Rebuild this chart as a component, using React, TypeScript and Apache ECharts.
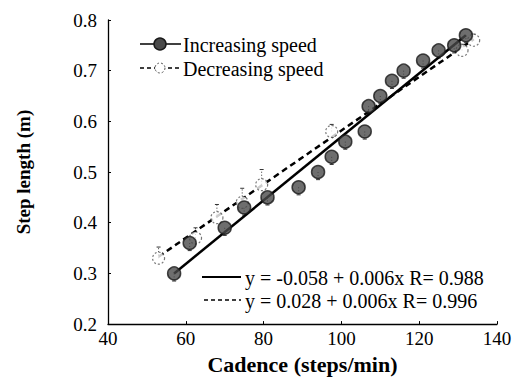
import React, { useEffect, useRef } from "react";
import * as echarts from "echarts";

const cadenceInc = [57, 61, 70, 75, 81, 89, 94, 97.5, 101, 106, 107, 110, 113, 116, 121, 125, 129, 132];
const stepInc = [0.30, 0.36, 0.39, 0.43, 0.45, 0.47, 0.50, 0.53, 0.56, 0.58, 0.63, 0.65, 0.68, 0.70, 0.72, 0.74, 0.75, 0.77];
const errInc = [0.015, 0.015, 0.015, 0.015, 0.015, 0.015, 0.015, 0.015, 0.015, 0.015, 0.015, 0.015, 0.015, 0.015, 0.015, 0.015, 0.015, 0.015];

const cadenceDec = [53, 62.5, 68, 74.5, 79.5, 97.5, 131, 134];
const stepDec = [0.33, 0.37, 0.41, 0.44, 0.475, 0.58, 0.74, 0.76];
const errDec = [0.022, 0.02, 0.026, 0.028, 0.03, 0.014, 0.012, 0.012];

const fitIncX = [57, 132];
const fitIncY = [0.30, 0.77];
const fitDecX = [53, 134];
const fitDecY = [0.333, 0.762];

const xTicks = [40, 60, 80, 100, 120, 140];
const yTicks = [0.2, 0.3, 0.4, 0.5, 0.6, 0.7, 0.8];

const seriesNames = ["Increasing speed", "Decreasing speed"];
const eqTexts = ["y = -0.058 + 0.006x R= 0.988", "y = 0.028 + 0.006x R= 0.996"];

const FONT = "'Liberation Serif', 'DejaVu Serif', serif";

export default function App() {
  const ref = useRef<HTMLDivElement>(null);
  useEffect(() => {
    if (!ref.current) return;
    const chart = echarts.init(ref.current, null, { renderer: "svg" });
    const inc = cadenceInc.map((x, i) => [x, stepInc[i], errInc[i]]);
    const dec = cadenceDec.map((x, i) => [x, stepDec[i], errDec[i]]);
    const errRender = (dir: number) => (params: any, api: any) => {
      const x = api.value(0);
      const y = api.value(1);
      const e = api.value(2);
      const p0 = api.coord([x, y]);
      const p1 = api.coord([x, y + dir * e]);
      return {
        type: "group",
        children: [
          { type: "line", shape: { x1: p0[0], y1: p0[1], x2: p1[0], y2: p1[1] }, style: { stroke: "#333", lineWidth: 1, lineDash: [1, 2] } },
          { type: "line", shape: { x1: p1[0] - 2, y1: p1[1], x2: p1[0] + 2, y2: p1[1] }, style: { stroke: "#333", lineWidth: 1 } },
        ],
      };
    };
    chart.setOption({
      animation: false,
      backgroundColor: "#fff",
      grid: { left: 108, right: 22, top: 20, bottom: 54 },
      xAxis: {
        type: "value",
        min: xTicks[0],
        max: xTicks[xTicks.length - 1],
        interval: 20,
        name: "Cadence (steps/min)",
        nameLocation: "middle",
        nameGap: 25,
        nameTextStyle: { fontFamily: FONT, fontWeight: "bold", fontSize: 22, color: "#000" },
        axisLine: { lineStyle: { color: "#000", width: 1.3 } },
        axisTick: { inside: true, length: 3, lineStyle: { color: "#000" } },
        axisLabel: { fontFamily: FONT, fontSize: 19, color: "#000", margin: 5 },
        splitLine: { show: false },
      },
      yAxis: {
        type: "value",
        min: yTicks[0],
        max: yTicks[yTicks.length - 1],
        interval: 0.1,
        name: "Step length (m)",
        nameLocation: "middle",
        nameGap: 75,
        nameTextStyle: { fontFamily: FONT, fontWeight: "bold", fontSize: 19, color: "#000" },
        axisLine: { show: true, lineStyle: { color: "#000", width: 1.3 } },
        axisTick: { show: true, inside: true, length: 3, lineStyle: { color: "#000" } },
        axisLabel: { fontFamily: FONT, fontSize: 19, color: "#000", margin: 11, formatter: (v: number) => v.toFixed(1) },
        splitLine: { show: false },
      },
      series: [
        {
          type: "line",
          name: "fitDec",
          data: fitDecX.map((x, i) => [x, fitDecY[i]]),
          symbol: "none",
          lineStyle: { color: "#000", width: 2.5, type: [6, 4] },
          z: 2,
        },
        {
          type: "line",
          name: "fitInc",
          data: fitIncX.map((x, i) => [x, fitIncY[i]]),
          symbol: "none",
          lineStyle: { color: "#000", width: 2.5 },
          z: 3,
        },
        {
          type: "custom",
          name: "errDec",
          data: dec,
          renderItem: errRender(1),
          z: 1,
        },
        {
          type: "custom",
          name: "errInc",
          data: inc,
          renderItem: errRender(-1),
          z: 1,
        },
        {
          type: "scatter",
          name: seriesNames[1],
          data: dec,
          symbol: "circle",
          symbolSize: 12,
          itemStyle: { color: "#fff", borderColor: "#555", borderWidth: 1.2, borderType: [2, 2] },
          z: 4,
        },
        {
          type: "scatter",
          name: seriesNames[0],
          data: inc,
          symbol: "circle",
          symbolSize: 13,
          itemStyle: { color: "#4a4a4a", borderColor: "#1a1a1a", borderWidth: 1.5 },
          z: 5,
        },
      ],
      graphic: [
        { type: "line", shape: { x1: 140, y1: 44, x2: 181, y2: 44 }, style: { stroke: "#000", lineWidth: 1.5 } },
        { type: "circle", shape: { cx: 160, cy: 44, r: 6 }, style: { fill: "#4a4a4a", stroke: "#1a1a1a", lineWidth: 1.5 } },
        { type: "text", x: 183, y: 45, style: { text: seriesNames[0], fontFamily: FONT, fontSize: 20, fill: "#000", verticalAlign: "middle" } },
        { type: "line", shape: { x1: 140, y1: 68, x2: 181, y2: 68 }, style: { stroke: "#000", lineWidth: 1.5, lineDash: [4, 3] } },
        { type: "circle", shape: { cx: 160, cy: 68, r: 5 }, style: { fill: "#fff", stroke: "#555", lineWidth: 1, lineDash: [2, 2] } },
        { type: "text", x: 183, y: 69, style: { text: seriesNames[1], fontFamily: FONT, fontSize: 20, fill: "#000", verticalAlign: "middle" } },
        { type: "line", shape: { x1: 202, y1: 277, x2: 241, y2: 277 }, style: { stroke: "#000", lineWidth: 2 } },
        { type: "text", x: 245, y: 278, style: { text: eqTexts[0], fontFamily: FONT, fontSize: 20, fill: "#000", verticalAlign: "middle" } },
        { type: "line", shape: { x1: 204, y1: 300, x2: 241, y2: 300 }, style: { stroke: "#000", lineWidth: 1.5, lineDash: [4, 3] } },
        { type: "text", x: 245, y: 301, style: { text: eqTexts[1], fontFamily: FONT, fontSize: 20, fill: "#000", verticalAlign: "middle" } },
      ],
    });
    return () => chart.dispose();
  }, []);
  return <div ref={ref} style={{ width: 519, height: 380, position: "absolute", left: 0, top: 0 }} />;
}
